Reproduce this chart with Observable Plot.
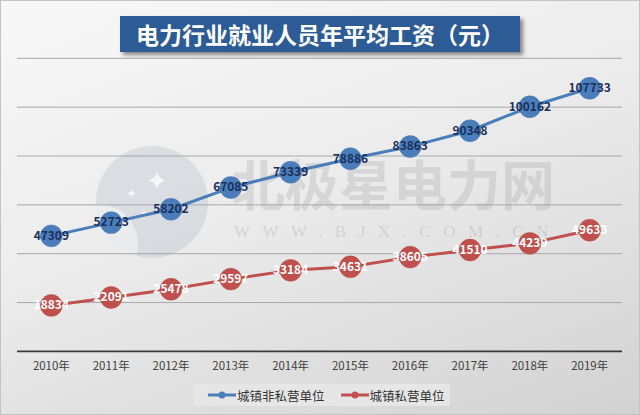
<!DOCTYPE html>
<html>
<head>
<meta charset="utf-8">
<script src="https://cdn.jsdelivr.net/npm/d3@7"></script>
<script src="https://cdn.jsdelivr.net/npm/@observablehq/plot@0.6"></script>
<style>
  html, body { margin: 0; padding: 0; background: #fff; }
  #wrap {
    position: relative; width: 640px; height: 415px; overflow: hidden;
    box-sizing: border-box; border: 1px solid #c4c4c4;
    background: linear-gradient(160deg, #f8f8f8 0%, #ececec 45%, #d2d2d2 100%);
    font-family: "Noto Sans CJK SC", "Noto Sans", sans-serif;
  }
  #title {
    position: absolute; left: 119px; top: 15px; width: 400px; height: 36px;
    background: #2d5b95; color: #fff; font-weight: bold; font-size: 23px;
    line-height: 36px; text-align: center;
    box-shadow: 3px 3px 4px rgba(0,0,0,0.45); z-index: 3;
  }
  #wm-logo {
    position: absolute; left: 95px; top: 145px; width: 112px; height: 112px;
    border-radius: 50%; background: rgba(120,138,165,0.17); z-index: 0; overflow: hidden;
  }
  #wm-logo .cut {
    position: absolute; left: -38px; top: 58px; width: 80px; height: 80px; border-radius: 50%;
    background: rgba(240,240,240,0.75);
  }
  #wm-logo .star { position: absolute; color: rgba(255,255,255,0.8); line-height: 1; }
  #wm-text {
    position: absolute; left: 230px; top: 152px; font-size: 54px; font-weight: bold;
    color: rgba(140,140,140,0.22); white-space: nowrap; z-index: 0; line-height: 1.1;
  }
  #wm-url {
    position: absolute; left: 233px; top: 221px; font-size: 17px;
    font-family: "Liberation Serif", "DejaVu Serif", serif; letter-spacing: 12.5px;
    color: rgba(150,150,150,0.28); white-space: nowrap; z-index: 0;
  }
  #chart { position: absolute; left: 0; top: 0; z-index: 1; }
  #legend {
    position: absolute; left: 193px; top: 383px; width: 256px; height: 22px;
    background: rgba(232,232,232,0.85); z-index: 2;
    display: flex; align-items: center; font-size: 12.5px; color: #333;
  }
  .item { display: flex; align-items: center; margin-left: 14px; }
  .item + .item { margin-left: 16px; }
  .item svg { margin-right: 1px; }
</style>
</head>
<body>
<div id="wrap">
  <div id="wm-logo"><div class="cut"></div><span class="star" style="left:50px;top:20px;font-size:26px">✦</span><span class="star" style="left:30px;top:40px;font-size:13px">✦</span><span class="star" style="left:72px;top:48px;font-size:14px">✦</span><span class="star" style="left:44px;top:62px;font-size:10px">✦</span></div>
  <div id="wm-text">北极星电力网</div>
  <div id="wm-url">WWW.BJX.COM.CN</div>
  <div id="chart"></div>
  <div id="title">电力行业就业人员年平均工资（元）</div>
  <div id="legend"></div>
</div>
<script>
const years = ["2010年","2011年","2012年","2013年","2014年","2015年","2016年","2017年","2018年","2019年"];
const nonPrivate = [47309, 52723, 58202, 67085, 73339, 78886, 83863, 90348, 100162, 107733];
const privateUnits = [18834, 22091, 25478, 29597, 33184, 34631, 38605, 41510, 44239, 49633];
const yTicks = [0, 20000, 40000, 60000, 80000, 100000, 120000];
const seriesNames = ["城镇非私营单位", "城镇私营单位"];
const seriesColors = ["#4a7ebb", "#c0504d"];
const labelColors = ["#1b2f5a", "#ffffff"];

const blueData = years.map((y, i) => ({year: y, value: nonPrivate[i]}));
const redData = years.map((y, i) => ({year: y, value: privateUnits[i]}));

const chart = Plot.plot({
  width: 640,
  height: 385,
  marginTop: 57,
  marginBottom: 34,
  marginLeft: 16,
  marginRight: 17,
  style: {background: "transparent", color: "#404040", fontFamily: "'Noto Sans CJK SC', sans-serif", overflow: "visible"},
  x: {type: "point", domain: years, padding: 0.5, label: null},
  y: {domain: [0, 120000], axis: null},
  marks: [
    Plot.ruleY(yTicks.filter(d => d > 0), {stroke: "#a9a9a9", strokeWidth: 1}),
    Plot.ruleY([0], {stroke: "#3a3a3a", strokeWidth: 1.6}),
    Plot.axisX({tickSize: 0, tickPadding: 10, fontSize: 11.5, fill: "#404040"}),
    Plot.line(blueData, {x: "year", y: "value", stroke: seriesColors[0], strokeWidth: 3}),
    Plot.line(redData, {x: "year", y: "value", stroke: seriesColors[1], strokeWidth: 3}),
    Plot.dot(blueData, {x: "year", y: "value", r: 11, fill: seriesColors[0], stroke: "#4476b3", strokeWidth: 0.5}),
    Plot.dot(redData, {x: "year", y: "value", r: 11, fill: seriesColors[1], stroke: "#b84a47", strokeWidth: 0.5}),
    Plot.text(blueData, {x: "year", y: "value", text: d => String(d.value), fill: labelColors[0], fontSize: 12, fontWeight: 600}),
    Plot.text(redData, {x: "year", y: "value", text: d => String(d.value), fill: labelColors[1], fontSize: 12, fontWeight: 700})
  ]
});
document.getElementById("chart").appendChild(chart);

const legend = document.getElementById("legend");
seriesNames.forEach((name, i) => {
  const item = document.createElement("div");
  item.className = "item";
  item.innerHTML = `<svg width="28" height="10"><line x1="0" y1="5" x2="28" y2="5" stroke="${seriesColors[i]}" stroke-width="3"/><circle cx="14" cy="5" r="3.5" fill="${seriesColors[i]}"/></svg><span>${name}</span>`;
  legend.appendChild(item);
});
</script>
</body>
</html>
